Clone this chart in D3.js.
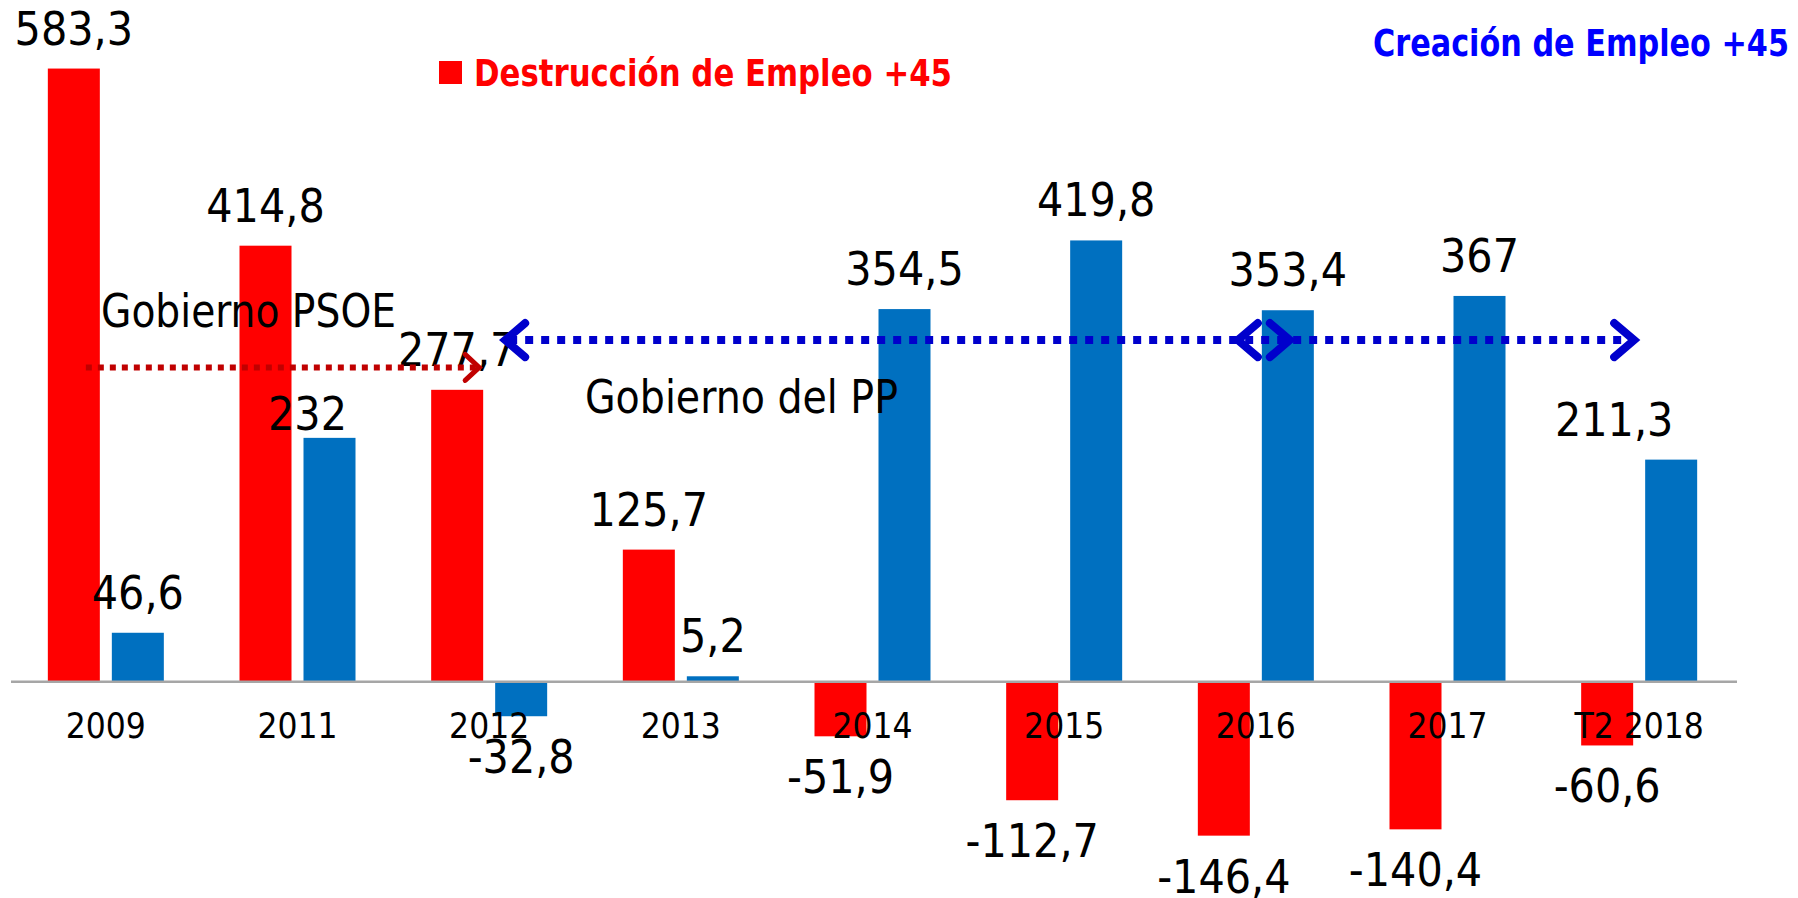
<!DOCTYPE html>
<html>
<head>
<meta charset="utf-8">
<script src="https://cdn.jsdelivr.net/npm/d3@7"></script>
<style>
  body { margin: 0; background: #fff; }
  text { font-family: "DejaVu Sans Condensed", "Liberation Sans", sans-serif; }
</style>
</head>
<body>
<script>
// datos
var years = ["2009", "2011", "2012", "2013", "2014", "2015", "2016", "2017", "T2 2018"];
var destruccion = [583.3, 414.8, 277.7, 125.7, -51.9, -112.7, -146.4, -140.4, -60.6];
var creacion = [46.6, 232, -32.8, 5.2, 354.5, 419.8, 353.4, 367, 211.3];
var seriesNames = ["Destrucción de Empleo +45", "Creación de Empleo +45"];

var W = 1798, H = 898;
var red = "#ff0000", blue = "#0070c0";

var svg = d3.select("body").append("svg")
  .attr("width", W)
  .attr("height", H);

var x = d3.scaleBand().domain(years).range([10, 1735]);
var x1 = d3.scaleBand().domain(["d", "c"]).range([0, 116]).paddingInner(0.1875);
var y = d3.scaleLinear().domain([-200, 600]).range([892, 51]);

var fmt = function (v) { return String(v).replace(".", ","); };

var rows = years.map(function (yr, i) {
  return [
    { year: yr, key: "d", v: destruccion[i] },
    { year: yr, key: "c", v: creacion[i] }
  ];
});
var flat = [].concat.apply([], rows);

var barX = function (d) { return x(d.year) + x.bandwidth() / 2 - 58 + x1(d.key); };

// bars
svg.selectAll("rect.bar")
  .data(flat)
  .enter()
  .append("rect")
  .attr("class", "bar")
  .attr("x", barX)
  .attr("width", x1.bandwidth())
  .attr("y", function (d) { return y(Math.max(0, d.v)); })
  .attr("height", function (d) { return Math.abs(y(d.v) - y(0)); })
  .style("fill", function (d) { return d.key == "d" ? red : blue; });

// eje
svg.append("line")
  .attr("x1", 11).attr("x2", 1737)
  .attr("y1", y(0)).attr("y2", y(0))
  .style("stroke", "#a6a6a6")
  .style("stroke-width", 2.5);

var xAxis = svg.append("g")
  .attr("transform", "translate(0," + y(0) + ")")
  .call(d3.axisBottom(x).tickSize(0).tickPadding(31));
xAxis.select(".domain").remove();
xAxis.selectAll("text")
  .style("font-family", '"DejaVu Sans Condensed", "Liberation Sans", sans-serif')
  .style("font-size", "35px")
  .style("fill", "#000");

// etiquetas de valor (algunas movidas a mano como en el original)
var nudge = { "c2011": [-22, 16], "c2018": [-57, 0] };
svg.selectAll("text.val")
  .data(flat)
  .enter()
  .append("text")
  .attr("class", "val")
  .attr("text-anchor", "middle")
  .attr("x", function (d) {
    var n = nudge[d.key + d.year.slice(-4)];
    return barX(d) + x1.bandwidth() / 2 + (n ? n[0] : 0);
  })
  .attr("y", function (d) {
    var n = nudge[d.key + d.year.slice(-4)];
    var base = d.v >= 0 ? y(d.v) - 24 : y(d.v) + 57;
    return base + (n ? n[1] : 0);
  })
  .style("font-size", "46px")
  .style("fill", "#000")
  .text(function (d) { return fmt(d.v); });

// leyendas
svg.append("rect")
  .attr("x", 439).attr("y", 61)
  .attr("width", 23).attr("height", 23)
  .style("fill", red);
svg.append("text")
  .attr("x", 474).attr("y", 86)
  .attr("textLength", 478)
  .attr("lengthAdjust", "spacingAndGlyphs")
  .style("font-size", "38px")
  .style("font-weight", "bold")
  .style("fill", red)
  .text(seriesNames[0]);
svg.append("text")
  .attr("x", 1373).attr("y", 56)
  .attr("textLength", 416)
  .attr("lengthAdjust", "spacingAndGlyphs")
  .style("font-size", "38px")
  .style("font-weight", "bold")
  .style("fill", "#0000ff")
  .text(seriesNames[1]);

// flechas de gobierno
var dotted = function (x0, x1_, yy, col, w) {
  svg.append("line")
    .attr("x1", x0).attr("x2", x1_)
    .attr("y1", yy).attr("y2", yy)
    .style("stroke", col)
    .style("stroke-width", w)
    .style("stroke-dasharray", w + "," + w);
};
var chevron = function (tipX, yy, dir, col, w, hw, hh) {
  svg.append("path")
    .attr("d", "M" + (tipX - dir * hw) + "," + (yy - hh) + "L" + tipX + "," + yy + "L" + (tipX - dir * hw) + "," + (yy + hh))
    .style("fill", "none")
    .style("stroke", col)
    .style("stroke-width", w)
    .style("stroke-linecap", "round")
    .style("stroke-linejoin", "miter");
};

var c = function (yr) { return x(yr) + x.bandwidth() / 2; };

var psoeY = y(299);
dotted(c("2009") - 20, c("2012") - 12, psoeY, "#c00000", 6);
chevron(c("2012") - 10, psoeY, 1, "#c00000", 5, 14, 13);

var ppY = y(325);
dotted(c("2012") + 20, c("T2 2018") - 10, ppY, "#0000cc", 8);
chevron(c("2012") + 16, ppY, -1, "#0000cc", 8, 20, 17);
chevron(c("2016") + 34, ppY, 1, "#0000cc", 8, 20, 17);
chevron(c("2016") - 18, ppY, -1, "#0000cc", 8, 20, 17);
chevron(c("T2 2018") - 5, ppY, 1, "#0000cc", 8, 20, 17);

svg.append("text")
  .attr("x", 101).attr("y", 327)
  .attr("textLength", 295)
  .attr("lengthAdjust", "spacingAndGlyphs")
  .style("font-size", "46px")
  .style("fill", "#000")
  .text("Gobierno PSOE");
svg.append("text")
  .attr("x", 585).attr("y", 413)
  .attr("textLength", 313)
  .attr("lengthAdjust", "spacingAndGlyphs")
  .style("font-size", "46px")
  .style("fill", "#000")
  .text("Gobierno del PP");
</script>
</body>
</html>
